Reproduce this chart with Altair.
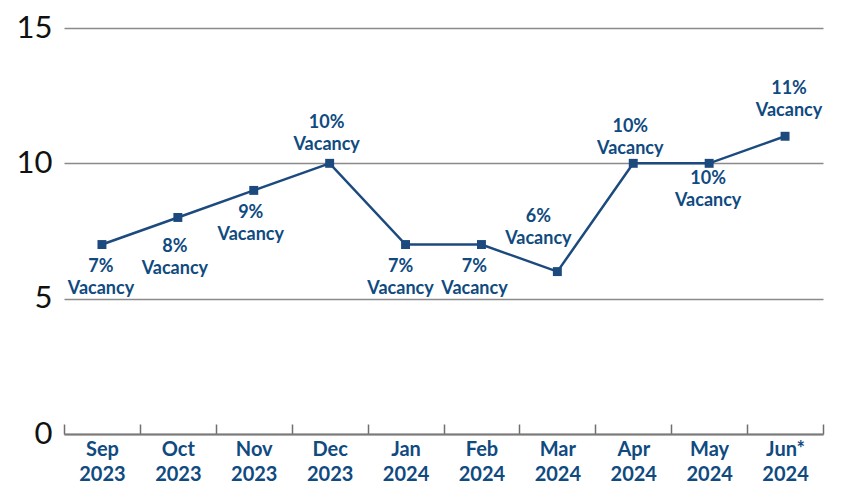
import altair as alt
import pandas as pd

months = ["Sep", "Oct", "Nov", "Dec", "Jan", "Feb", "Mar", "Apr", "May", "Jun*"]
years = ["2023", "2023", "2023", "2023", "2024", "2024", "2024", "2024", "2024", "2024"]
vacancy = [7, 8, 9, 10, 7, 7, 6, 10, 10, 11]
y_ticks = [0, 5, 10, 15]

periods = [f"{m} {y}" for m, y in zip(months, years)]
df = pd.DataFrame({
    "period": periods,
    "vacancy": vacancy,
    "label": [f"{v}%\nVacancy" for v in vacancy],
})

# label nudges (style): dx, dy in pixels relative to the point
nudges = [(-1, 22), (-3, 30), (-3, 23), (-3, -40), (-5, 22),
          (-7, 22), (-19, -55), (-3, -36), (-1, 16), (4, -47)]

BLUE = "#1c4a7e"
LABEL_BLUE = "#0f4a80"
GRAY = "#8a8a8a"

x_scale = alt.Scale(domain=periods, paddingInner=0, paddingOuter=0)
x_enc = alt.X(
    "period:N", sort=periods, title=None, scale=x_scale,
    axis=alt.Axis(
        labelExpr="isString(datum.value) ? split(datum.value, ' ') : ''",
        labelAngle=0,
        labelFont="Lato", labelFontSize=20, labelFontWeight="bold",
        labelColor=LABEL_BLUE, labelLineHeight=25, labelBaseline="top",
        labelPadding=15,
        tickBand="extent", tickSize=alt.ExprRef(expr="-10"),
        tickColor="#6e6e6e", tickWidth=1.5,
        domainColor="#7a7a7a", domainWidth=2,
        grid=False,
    ),
)
x_plain = alt.X("period:N", sort=periods, scale=x_scale)
y_enc = alt.Y(
    "vacancy:Q", title=None,
    scale=alt.Scale(domain=[0, 15], nice=False, zero=True),
    axis=alt.Axis(
        values=y_ticks, grid=True, gridColor=GRAY, gridWidth=1.5,
        domain=False, ticks=False,
        labelFont="Lato", labelFontSize=31, labelColor="#111111",
        labelPadding=12,
    ),
)

base = alt.Chart(df)
line = base.mark_line(color=BLUE, strokeWidth=2.5).encode(x=x_enc, y=y_enc)
pts = base.mark_square(color=BLUE, size=80, opacity=1).encode(x=x_plain, y="vacancy:Q")

layers = [line, pts]
for p, (dx, dy) in zip(periods, nudges):
    layers.append(
        base.transform_filter(alt.datum.period == p)
        .mark_text(dx=dx, dy=dy, lineBreak="\n", baseline="middle", align="center",
                   font="Lato", fontSize=18, fontWeight="bold", color=LABEL_BLUE,
                   lineHeight=22)
        .encode(x=x_plain, y="vacancy:Q", text="label:N")
    )

chart = alt.layer(*layers).properties(
    width=759, height=406,
    autosize=alt.AutoSizeParams(type="none"),
    padding={"left": 64, "top": 28, "right": 22, "bottom": 53},
).configure_view(stroke=None)

chart.save("out.html", embed_options={"renderer": "svg", "actions": False})
